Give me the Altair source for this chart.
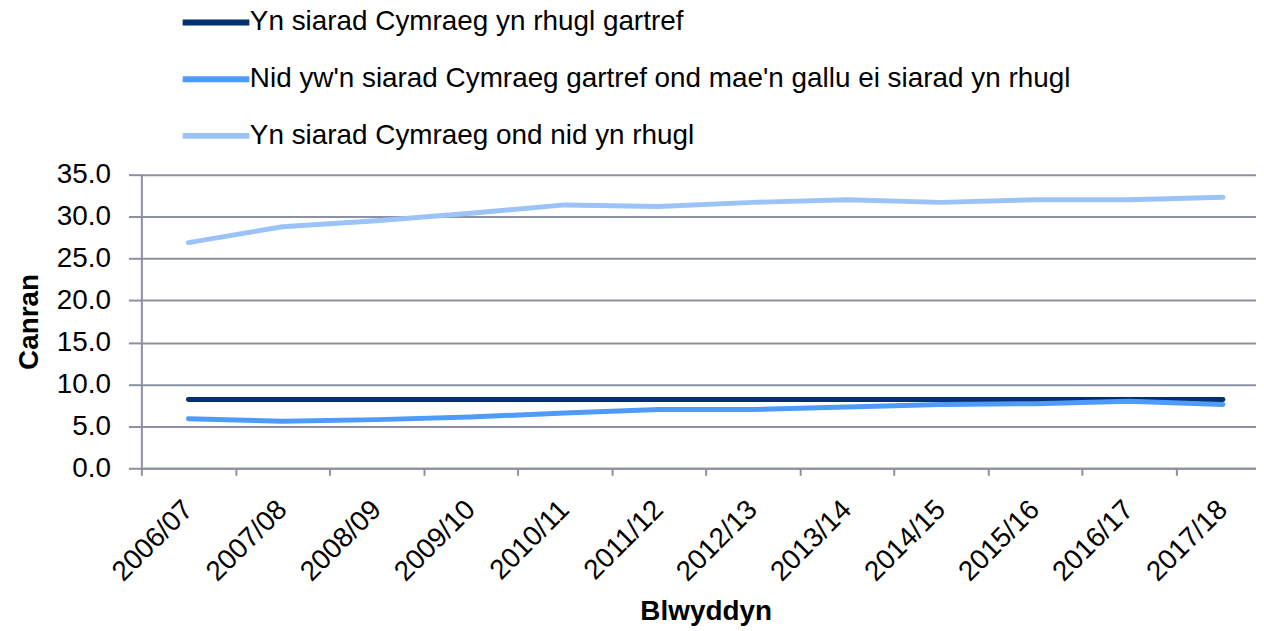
import altair as alt
import pandas as pd

years = ["2006/07", "2007/08", "2008/09", "2009/10", "2010/11", "2011/12",
         "2012/13", "2013/14", "2014/15", "2015/16", "2016/17", "2017/18"]
series_names = [
    "Yn siarad Cymraeg yn rhugl gartref",
    "Nid yw'n siarad Cymraeg gartref ond mae'n gallu ei siarad yn rhugl",
    "Yn siarad Cymraeg ond nid yn rhugl",
]
fluent_home = [8.2, 8.2, 8.2, 8.2, 8.2, 8.2, 8.2, 8.2, 8.2, 8.2, 8.2, 8.2]
fluent_not_home = [5.9, 5.6, 5.8, 6.1, 6.6, 7.0, 7.0, 7.3, 7.6, 7.7, 8.0, 7.6]
not_fluent = [26.9, 28.8, 29.5, 30.4, 31.4, 31.2, 31.7, 32.0, 31.7, 32.0, 32.0, 32.3]
colors = ["#00306E", "#4F9BFB", "#9CC3F7"]

rows = []
for name, vals in zip(series_names, [fluent_home, fluent_not_home, not_fluent]):
    for y, v in zip(years, vals):
        rows.append({"Blwyddyn": y, "Canran": v, "Cyfres": name})
df = pd.DataFrame(rows)

FONT = "Liberation Sans"
GRID = "#8C90A0"

chart = alt.Chart(df).mark_line(strokeWidth=5, strokeCap="round", strokeJoin="round").encode(
    x=alt.X("Blwyddyn:N", sort=years, bandPosition=0.5,
            scale=alt.Scale(type="band", paddingInner=0, paddingOuter=0),
            axis=alt.Axis(title="Blwyddyn", labelAngle=-45, labelAlign="right",
                          labelBaseline="middle", labelPadding=30,
                          labelFont=FONT, labelFontSize=28, labelColor="black",
                          tickBand="extent", tickSize=7, tickWidth=2, tickColor=GRID,
                          domainColor=GRID, domainWidth=2, grid=False,
                          titleFont=FONT, titleFontSize=28, titleFontWeight="bold",
                          titleColor="black", titleY=144, titleBaseline="middle")),
    y=alt.Y("Canran:Q", scale=alt.Scale(domain=[0, 35], nice=False),
            axis=alt.Axis(title="Canran", values=[0, 5, 10, 15, 20, 25, 30, 35],
                          format=".1f", labelFont=FONT, labelFontSize=28,
                          labelColor="black", labelPadding=18,
                          tickSize=13, tickWidth=2, tickColor=GRID,
                          domainColor=GRID, domainWidth=2,
                          grid=True, gridColor=GRID, gridWidth=2,
                          titleFont=FONT, titleFontSize=28, titleFontWeight="bold",
                          titleColor="black", titleX=-112, titleBaseline="middle")),
    color=alt.Color("Cyfres:N", sort=series_names,
                    scale=alt.Scale(domain=series_names, range=colors),
                    legend=alt.Legend(title=None, orient="none", legendX=55, legendY=-173,
                                      direction="vertical", symbolType="M-2,0H2",
                                      symbolSize=1122, symbolStrokeWidth=6,
                                      labelFont=FONT, labelFontSize=28,
                                      labelColor="black", labelOffset=14,
                                      rowPadding=23, labelLimit=1200)),
).properties(
    width=1134, height=295,
    autosize=alt.AutoSizeParams(type="none"),
    padding={"left": 134, "top": 166, "right": -14, "bottom": 160},
).configure_view(stroke=None)

chart.save("out.html", embed_options={"renderer": "svg", "actions": False})
